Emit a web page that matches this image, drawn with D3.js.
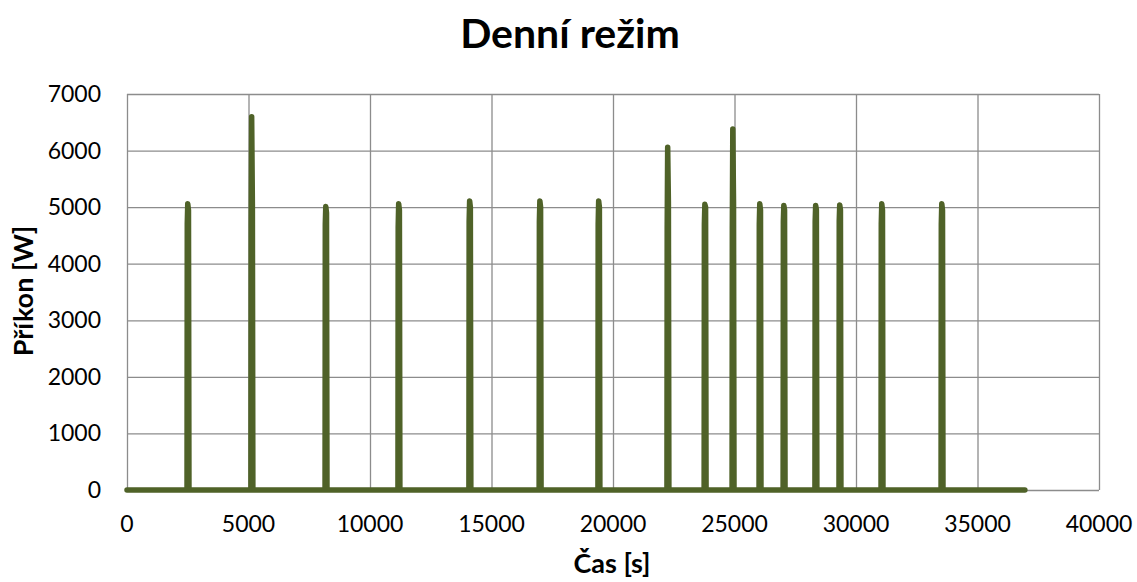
<!DOCTYPE html>
<html>
  <head>
    <title>Denní režim</title>
    <meta charset="utf-8">
    <style>
      body { margin: 0; background: #fff; }
      svg text { font-family: Lato, "Open Sans", sans-serif; fill: #000; }
      .grid line, .grid path { stroke: #8c8c8c; stroke-width: 1.3; }
    </style>
    <script src="https://cdnjs.cloudflare.com/ajax/libs/d3/7.8.5/d3.min.js"></script>
  </head>
  <body>
    <svg id="chart" width="1137" height="582"></svg>
    <script>
      // switching events: time [s], peak power [W], level after peak [W]
      var spikeTimes  = [2510, 5140, 8190, 11190, 14110, 17000, 19420, 22260, 23790, 24940, 26050, 27040, 28350, 29340, 31070, 33540];
      var spikePeaks  = [5060, 6600, 5010, 5060, 5110, 5110, 5110, 6060, 5050, 6380, 5060, 5030, 5030, 5040, 5060, 5060];
      var spikeAfter  = [4950, 5050, 4900, 4950, 5000, 5000, 5000, 5100, 5000, 5100, 4950, 4950, 4950, 4950, 4950, 4950];
      var spikeBefore = [4700, 4700, 4700, 4650, 4750, 4750, 4700, 4650, 4700, 4650, 4700, 4750, 4750, 4750, 4700, 4700];
      var endTime = 36950;
      var xTicks = [0, 5000, 10000, 15000, 20000, 25000, 30000, 35000, 40000];
      var yTicks = [0, 1000, 2000, 3000, 4000, 5000, 6000, 7000];

      var pL = 127, pR = 1099, pT = 94, pB = 490;
      var svg = d3.select('#chart');
      var x = d3.scaleLinear().domain([0, 40000]).range([pL, pR]);
      var y = d3.scaleLinear().domain([0, 7000]).range([pB, pT]);

      // series built from the read values
      var series = [[0, 0]];
      spikeTimes.forEach(function(t, i) {
        series.push([t - 40, 0], [t - 30, spikeBefore[i]], [t - 10, spikePeaks[i]],
                    [t + 20, spikeAfter[i]], [t + 40, 0]);
      });
      series.push([endTime, 0]);

      // grid
      svg.append('g').attr('class', 'grid')
        .attr('transform', 'translate(0,' + pB + ')')
        .call(d3.axisBottom(x).tickValues(xTicks).tickSize(-(pB - pT)).tickFormat(''))
        .call(function(g) { g.select('.domain').remove(); });
      svg.append('g').attr('class', 'grid')
        .attr('transform', 'translate(' + pL + ',0)')
        .call(d3.axisLeft(y).tickValues(yTicks).tickSize(-(pR - pL)).tickFormat(''))
        .call(function(g) { g.select('.domain').remove(); });

      // tick labels
      svg.selectAll('.xl').data(xTicks).enter().append('text')
        .attr('x', function(d) { return x(d); }).attr('y', 532)
        .attr('text-anchor', 'middle').style('font-size', '23px').text(function(d) { return d; });
      svg.selectAll('.yl').data(yTicks).enter().append('text')
        .attr('x', 101).attr('y', function(d) { return y(d) + 8; })
        .attr('text-anchor', 'end').style('font-size', '23px').text(function(d) { return d; });

      // line
      svg.append('path').datum(series)
        .attr('fill', 'none').attr('stroke', '#4f6228').attr('stroke-width', 5.5)
        .attr('stroke-linejoin', 'round').attr('stroke-linecap', 'round')
        .attr('d', d3.line().x(function(d) { return x(d[0]); }).y(function(d) { return y(d[1]); }));

      // titles
      svg.append('text').attr('x', 570).attr('y', 48).attr('text-anchor', 'middle')
        .style('font-size', '41px').style('font-weight', 'bold').text('Denní režim');
      svg.append('text').attr('x', 612).attr('y', 573).attr('text-anchor', 'middle')
        .style('font-size', '27px').style('font-weight', 'bold').text('Čas [s]');
      svg.append('text').attr('transform', 'translate(33,291) rotate(-90)')
        .attr('text-anchor', 'middle').style('font-size', '27px').style('font-weight', 'bold').text('Příkon [W]');
    </script>
  </body>
</html>
